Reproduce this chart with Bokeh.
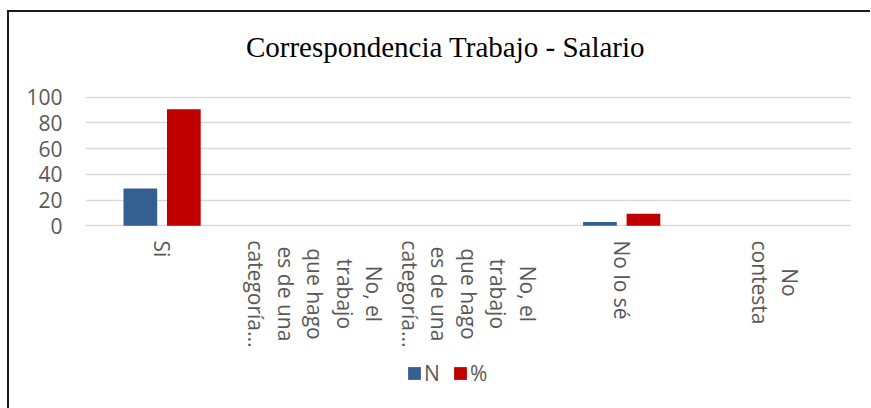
import math
from bokeh.plotting import figure
from bokeh.layouts import column
from bokeh.models import (ColumnDataSource, FactorRange, Range1d, Legend, LegendItem,
                          SingleIntervalTicker)
from bokeh.core.properties import value
from bokeh.transform import dodge
from bokeh.embed import file_html
from bokeh.resources import INLINE

# ---- data ----
categories = ["Si",
              "No, el trabajo que hago es de una categoría... (1)",
              "No, el trabajo que hago es de una categoría... (2)",
              "No lo sé",
              "No contesta"]
tick_labels = ["Si",
               "No, el\ntrabajo\nque hago\nes de una\ncategoría...",
               "No, el\ntrabajo\nque hago\nes de una\ncategoría...",
               "No lo sé",
               "No\ncontesta"]
n_values = [29, 0, 0, 3, 0]
pct_values = [90.6, 0, 0, 9.4, 0]
series_names = ["N", "%"]
title_text = "Correspondencia Trabajo - Salario"

BLUE = "#365F91"
RED = "#C00000"
GRAY_TEXT = "#595959"
GRID = "#D9D9D9"
FONT = "Open Sans"
FS = 21
W = 861
ML, MR = 76, 19

def blank(fig):
    fig.grid.grid_line_color = None
    fig.outline_line_color = None

# ---------------- title strip (data units = canvas pixels) ----------------
HT = 70
t = figure(x_range=Range1d(ML, W - MR), y_range=Range1d(-HT, 0), width=W, height=HT,
           output_backend="svg", toolbar_location=None,
           x_axis_type=None, y_axis_type=None,
           min_border_left=ML, min_border_right=MR, min_border_top=0, min_border_bottom=0)
blank(t)
t.text(x=[436], y=[-34], text=[title_text], text_align="center",
       text_baseline="alphabetic", text_font=value("Liberation Serif"),
       text_font_size="29px", text_color="#000000")

# ---------------- chart: axis, grid, bars ----------------
src = ColumnDataSource(dict(cat=categories, n=n_values, pct=pct_values))
xr = FactorRange(factors=categories)

p = figure(x_range=xr, y_range=Range1d(-0.5, 100.5),
           width=W, height=158, output_backend="svg", toolbar_location=None,
           min_border_left=ML, min_border_right=MR, min_border_top=14, min_border_bottom=14)

r1 = p.vbar(x=dodge("cat", -0.142, range=xr), top="n", width=0.22, source=src,
            fill_color=BLUE, line_color=None)
r2 = p.vbar(x=dodge("cat", 0.142, range=xr), top="pct", width=0.22, source=src,
            fill_color=RED, line_color=None)

p.outline_line_color = None
p.xaxis.visible = False
p.xgrid.grid_line_color = None
p.ygrid.grid_line_color = GRID
p.ygrid.grid_line_width = 1.5

p.yaxis.ticker = SingleIntervalTicker(interval=20)
p.yaxis.axis_line_color = None
p.yaxis.major_tick_line_color = None
p.yaxis.minor_tick_line_color = None
p.yaxis.major_tick_out = 0
p.yaxis.major_tick_in = 0
p.yaxis.major_label_standoff = 19
p.yaxis.major_label_text_font = FONT
p.yaxis.major_label_text_font_size = f"{FS}px"
p.yaxis.major_label_text_color = GRAY_TEXT

# ---------------- category labels + legend ----------------
H2 = 168
q = figure(x_range=xr, y_range=Range1d(-(14 + H2), -14),
           width=W, height=H2, output_backend="svg", toolbar_location=None,
           x_axis_type=None, y_axis_type=None,
           min_border_left=ML, min_border_right=MR, min_border_top=0, min_border_bottom=0)
blank(q)

# rough Open Sans advance widths (em) to centre the lines of each label
_w = {"a": .556, "b": .613, "c": .48, "d": .613, "e": .561, "g": .537, "h": .614,
      "j": .258, "l": .258, "n": .614, "o": .602, "q": .613, "r": .408, "s": .479,
      "t": .352, "u": .614, "í": .258, "é": .561, ".": .26, ",": .26, " ": .26,
      "N": .748, "S": .549, "i": .258}

def est(s):
    return sum(_w.get(ch, .55) for ch in s) * FS

LINE = 29.5
TOP = -14  # start of the labels, px below the zero line
lx, lo, ly, lt = [], [], [], []
for cat, lab in zip(categories, tick_labels):
    lines = lab.split("\n")
    n = len(lines)
    centre = TOP - max(est(s) for s in lines) / 2
    for k, s in enumerate(lines):
        lx.append(cat)
        lo.append(((n - 1) / 2 - k) * LINE)
        ly.append(centre)
        lt.append(s)
lab_src = ColumnDataSource(dict(x=lx, xo=lo, y=ly, text=lt))
q.text(x="x", y="y", text="text", x_offset="xo", source=lab_src, angle=-math.pi / 2,
       text_align="center", text_baseline="middle", text_font=value(FONT),
       text_font_size=f"{FS}px", text_color=GRAY_TEXT)

# legend swatches: renderers whose bars lie outside the visible range
d1 = q.vbar(x=[categories[0]], top=[-1000], bottom=[-1001], width=0.2,
            fill_color=BLUE, line_color=None)
d2 = q.vbar(x=[categories[0]], top=[-1000], bottom=[-1001], width=0.2,
            fill_color=RED, line_color=None)
legend = Legend(items=[LegendItem(label=series_names[0], renderers=[d1]),
                       LegendItem(label=series_names[1], renderers=[d2])],
                orientation="horizontal", location=(321, 21),
                glyph_width=16, glyph_height=16, label_standoff=2, spacing=8,
                label_height=26, label_text_font=FONT, label_text_font_size=f"{FS}px",
                label_text_color=GRAY_TEXT, border_line_color=None,
                background_fill_alpha=0, padding=0, margin=0)
q.add_layout(legend, "center")

layout = column(t, p, q, spacing=0,
                styles={"margin-top": "10px", "margin-left": "7px",
                        "border-top": "2px solid #1a1a1a",
                        "border-left": "2px solid #1a1a1a"})

open("out.html", "w").write(file_html(layout, INLINE))
